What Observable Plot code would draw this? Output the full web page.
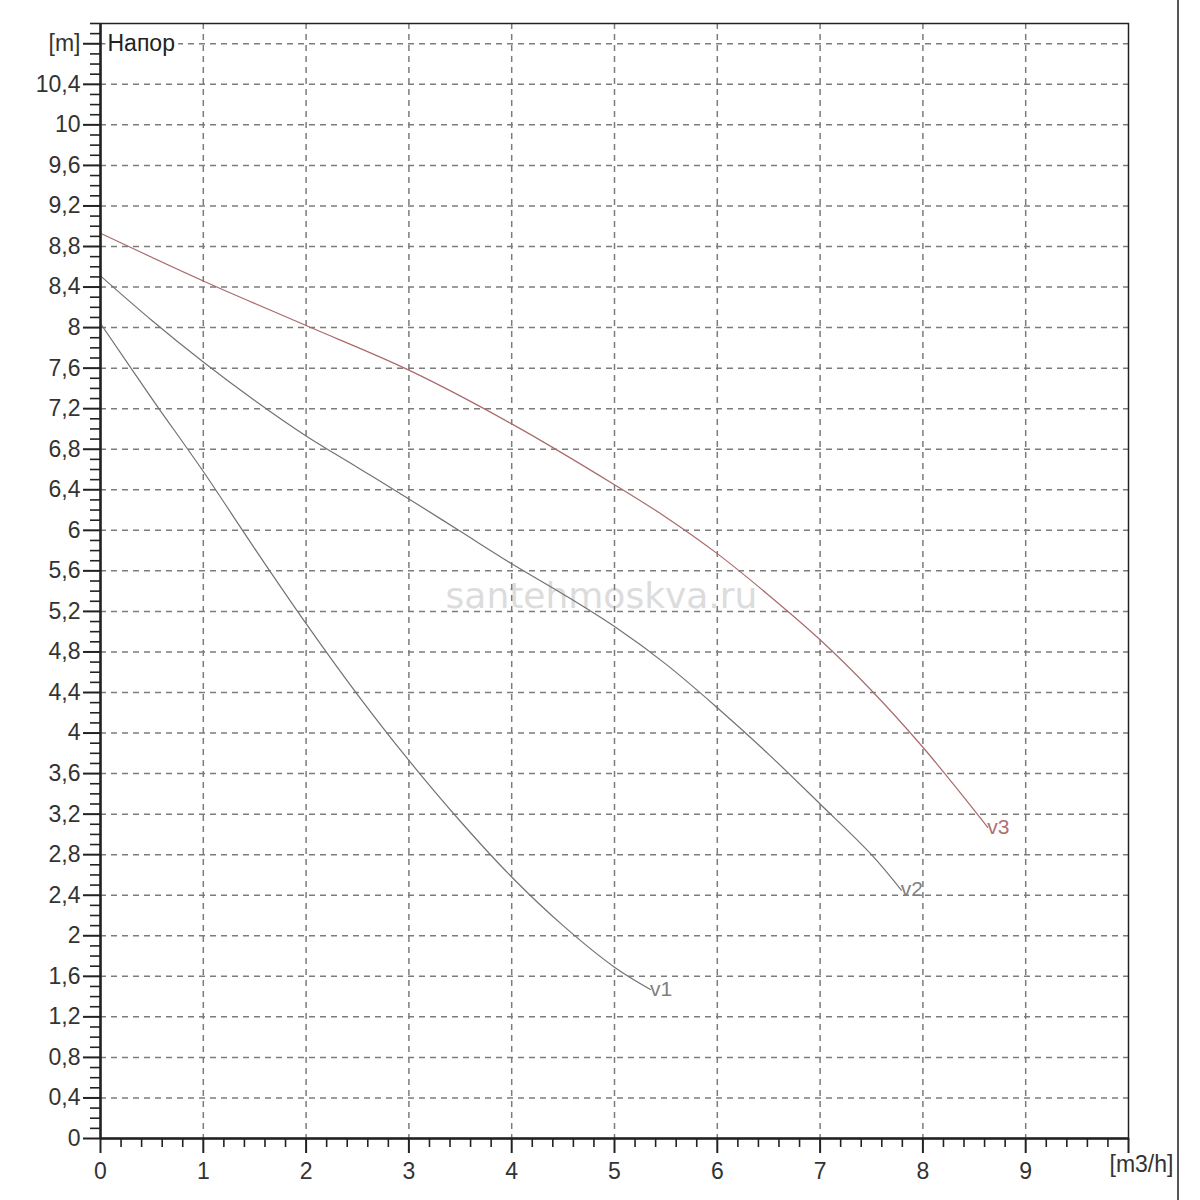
<!DOCTYPE html>
<html>
<head>
<meta charset="utf-8">
<script src="https://cdn.jsdelivr.net/npm/d3@7"></script>
<script src="https://cdn.jsdelivr.net/npm/@observablehq/plot@0.6"></script>
<style>
  html, body { margin: 0; padding: 0; background: #fff; overflow: hidden; }
  #wrap { position: relative; width: 1200px; height: 1200px; }
  #border { position: absolute; left: 1177px; top: 0; width: 2px; height: 1200px; background: #555; }
</style>
</head>
<body>
<div id="wrap"><div id="chart"></div><div id="border"></div></div>
<script>
// Flow Q [m3/h] and head H [m] for the three speed settings
const v1Q = [0, 0.5, 1, 1.5, 2, 2.5, 3, 3.5, 4, 4.5, 5, 5.35];
const v1H = [8.04, 7.30, 6.58, 5.82, 5.08, 4.38, 3.73, 3.13, 2.58, 2.10, 1.69, 1.47];

const v2Q = [0, 0.5, 1, 1.5, 2, 2.5, 3, 3.5, 4, 4.5, 5, 5.5, 6, 6.5, 7, 7.5, 7.79];
const v2H = [8.51, 8.07, 7.66, 7.28, 6.93, 6.62, 6.31, 5.99, 5.67, 5.37, 5.05, 4.68, 4.25, 3.79, 3.30, 2.80, 2.45];

const v3Q = [0, 1, 2, 3, 4, 5, 5.5, 6, 6.5, 7, 7.5, 8, 8.3, 8.63];
const v3H = [8.93, 8.46, 8.02, 7.58, 7.05, 6.45, 6.13, 5.77, 5.36, 4.92, 4.42, 3.86, 3.49, 3.07];

const seriesNames = ["v1", "v2", "v3"];
const seriesColors = ["#727272", "#727272", "#aa6a6a"];
const labelColors = ["#808080", "#808080", "#b07070"];

// Axis ticks and labels
const yTickValues = [0, 0.4, 0.8, 1.2, 1.6, 2, 2.4, 2.8, 3.2, 3.6, 4, 4.4, 4.8, 5.2, 5.6, 6, 6.4, 6.8, 7.2, 7.6, 8, 8.4, 8.8, 9.2, 9.6, 10, 10.4, 10.8];
const yTickLabels = ["0", "0,4", "0,8", "1,2", "1,6", "2", "2,4", "2,8", "3,2", "3,6", "4", "4,4", "4,8", "5,2", "5,6", "6", "6,4", "6,8", "7,2", "7,6", "8", "8,4", "8,8", "9,2", "9,6", "10", "10,4", "[m]"];
const xTickValues = [0, 1, 2, 3, 4, 5, 6, 7, 8, 9, 10];
const xTickLabels = ["0", "1", "2", "3", "4", "5", "6", "7", "8", "9", ""];
const xUnitLabel = "[m3/h]";
const yTitle = "Напор";
const watermark = "santehmoskva.ru";

const makeSeries = (Q, H) => Q.map((q, i) => ({q, h: H[i]}));
const series = [makeSeries(v1Q, v1H), makeSeries(v2Q, v2H), makeSeries(v3Q, v3H)];
const ends = series.map((s, i) => ({...s[s.length - 1], name: seriesNames[i], i}));

const yMinor = d3.range(0, 111).filter(k => k % 4 !== 0).map(k => k / 10);
const xMinor = d3.range(0, 51).filter(k => k % 5 !== 0).map(k => k / 5);
const yGrid = yTickValues.filter(v => v > 0);
const xGrid = xTickValues.filter(v => v > 0 && v < 10);

const font = "'Liberation Sans', Arial, sans-serif";

const plot = Plot.plot({
  width: 1200,
  height: 1200,
  marginLeft: 100,
  marginRight: 72,
  marginTop: 23,
  marginBottom: 62,
  x: {domain: [0, 10], label: null},
  y: {domain: [0, 11], label: null},
  style: {fontFamily: font, fontSize: "23px", color: "#222", background: "#fff"},
  marks: [
    Plot.text([watermark], {frameAnchor: "middle", dx: -13, dy: 15, fontSize: 36, fontFamily: "DejaVu Sans, sans-serif", fill: "#dcdcdc"}),
    Plot.ruleY(yGrid, {stroke: "#7c7c7c", strokeWidth: 1.5, strokeDasharray: "6,5"}),
    Plot.ruleX(xGrid, {stroke: "#7c7c7c", strokeWidth: 1.5, strokeDasharray: "6,5"}),
    Plot.frame({stroke: "#222", strokeWidth: 1.5}),
    Plot.axisY(yMinor, {tickSize: 10, tickFormat: () => "", strokeWidth: 1.6, stroke: "#222", label: null}),
    Plot.axisY(yTickValues, {tickSize: 17, tickPadding: 3, strokeWidth: 2, stroke: "#222", fill: "#333",
      tickFormat: d => yTickLabels[yTickValues.indexOf(d)], label: null}),
    Plot.axisX(xMinor, {tickSize: 9, tickFormat: () => "", strokeWidth: 1.6, stroke: "#222", label: null}),
    Plot.axisX(xTickValues, {tickSize: 15, tickPadding: 9, strokeWidth: 2, stroke: "#222", fill: "#333",
      tickFormat: d => xTickLabels[xTickValues.indexOf(d)], label: null}),
    Plot.text([xUnitLabel], {x: () => 10, frameAnchor: "bottom", dy: 33, dx: -19, textAnchor: "start", fill: "#333"}),
    ...series.map((s, i) => Plot.line(s, {x: "q", y: "h", stroke: seriesColors[i], strokeWidth: 1.2, curve: "catmull-rom"})),
    Plot.text(ends, {x: "q", y: "h", text: "name", textAnchor: "start", fontSize: 21,
      dx: d => [3, 0, 3][d.i], dy: d => [4, 1, 6][d.i], fill: d => labelColors[d.i]}),
    Plot.text([yTitle], {x: () => 0, y: () => 10.8, textAnchor: "start", dx: 7, fill: "#222", stroke: "white", strokeWidth: 8}),
    Plot.ruleX([0], {stroke: "#222", strokeWidth: 2.5}),
    Plot.ruleY([0], {stroke: "#222", strokeWidth: 2.5})
  ]
});
document.getElementById("chart").appendChild(plot);
</script>
</body>
</html>
